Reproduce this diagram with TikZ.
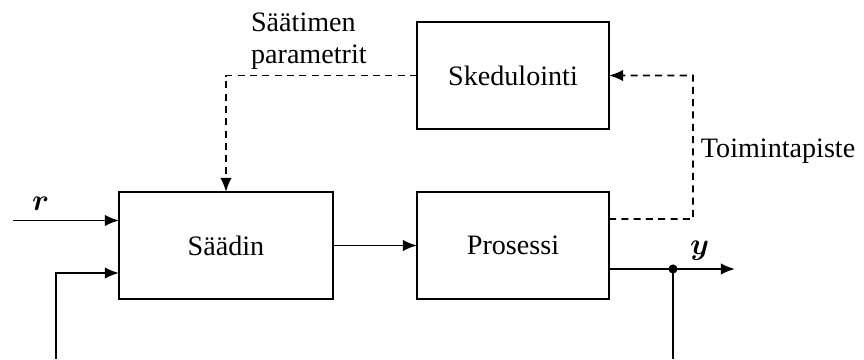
\documentclass[tikz,border=0pt]{standalone}
\usepackage{fontspec}
\usepackage{bm}
\setmainfont{Liberation Serif}
\usetikzlibrary{arrows.meta,calc,positioning}
\tikzset{every picture/.style={
  >={Latex[length=8pt,width=6.5pt]}   % Filled arrow heads.
  }
}

\begin{document}
\begin{tikzpicture}[
    block/.style={              % Boxes of the control loop.
      rectangle,
      draw,
      line width=1.1pt,
      outer sep=0pt,
      minimum height=2.14cm,
      font=\fontsize{16}{18.5}\selectfont
    },
    sig/.style={                % Solid signal lines.
      line width=1.1pt
    },
    par/.style={                % Dashed scheduling lines.
      line width=1.1pt,
      dash pattern=on 4pt off 3pt
    },
    lbl/.style={                % Styling of label text.
      font=\fontsize{16}{18.5}\selectfont
    }]

    % The blocks.
    \node[block,minimum width=4.28cm] (saadin) at (0,0) {Säädin};
    \node[block,minimum width=3.84cm] (prosessi) [right=1.68cm of saadin] {Prosessi};
    \node[block,minimum width=3.84cm] (sked) [above=1.26cm of prosessi] {Skedulointi};

    % Free ends of the signal lines.
    \coordinate (rin)  at ($(saadin.west)+(-2.12,0.5)$);
    \coordinate (fbk)  at ($(saadin.west)+(-1.26,-2.27)$);
    \coordinate (tap)  at ($(prosessi.east)+(1.28,-0.47)$);
    \coordinate (yout) at ($(prosessi.east)+(2.52,-0.47)$);
    \coordinate (op)   at ($(prosessi.east)+(1.68,0.53)$);

    \path[use as bounding box] ($(saadin.west |- sked.north)+(-2.38,0.44)$)
      rectangle ($(saadin.west |- fbk)+(14.9,0)$);

    % Control loop.
    \draw[sig,->] (rin) -- ([yshift=0.5cm] saadin.west)
      node[lbl,pos=0.26,above=2pt] {$\bm{r}$};
    \draw[sig,->] (fbk) |- ([yshift=-0.55cm] saadin.west);
    \draw[sig,->] (saadin) -- (prosessi);
    \draw[sig,->] ([yshift=-0.47cm] prosessi.east) -- (yout)
      node[lbl,pos=0.72,above=1pt] {$\bm{y}$};
    \fill (tap) circle (2.6pt);
    \draw[sig] (tap) -- (tap |- fbk);

    % Scheduling.
    \draw[par,->] ([yshift=0.53cm] prosessi.east) -- (op) |- (sked.east);
    \node[lbl,right=1pt] (toim) at ($(op)!0.47!(op |- sked.east)$) {Toimintapiste};
    \draw[par,->] (sked.west) -| (saadin.north);
    \node[lbl,align=left,anchor=south west,inner sep=1pt] (parlbl)
      at ($(saadin.north |- sked.west)+(0.46,0.07)$) {Säätimen\\parametrit};
  \end{tikzpicture}
\end{document}
